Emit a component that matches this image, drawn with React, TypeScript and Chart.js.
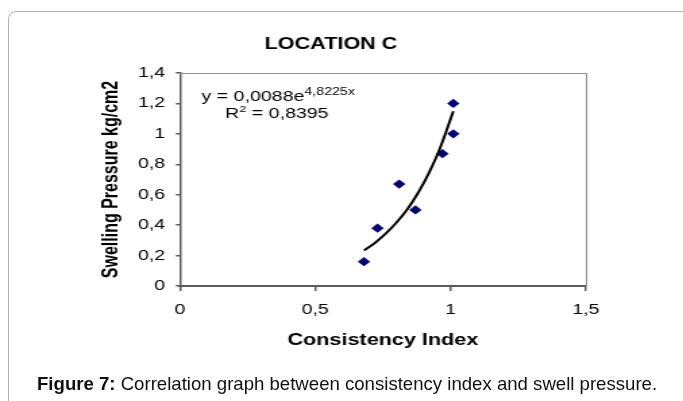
import React, { useEffect, useRef } from "react";
import { Chart, registerables } from "chart.js";

Chart.register(...registerables);

// ---- data ----
const chartTitle = "LOCATION C";
const xAxisTitle = "Consistency Index";
const yAxisTitle = "Swelling Pressure kg/cm2";
const consistencyIndex = [0.68, 0.73, 0.81, 0.87, 0.97, 1.01, 1.01];
const swellingPressure = [0.16, 0.38, 0.67, 0.5, 0.87, 1.0, 1.2];
// exponential trendline (y = 0,0088e^4,8225x)
const trendX = [0.68, 0.72, 0.76, 0.8, 0.84, 0.88, 0.92, 0.96, 1.01];
const trendY = [0.234, 0.283, 0.344, 0.417, 0.505, 0.613, 0.744, 0.902, 1.148];
const xTicks = [0, 0.5, 1, 1.5];
const yTicks = [0, 0.2, 0.4, 0.6, 0.8, 1, 1.2, 1.4];
const equationMain = "y = 0,0088e";
const equationExp = "4,8225x";
const r2Label = "R";
const r2Exp = "2";
const r2Value = " = 0,8395";
const captionBold = "Figure 7:";
const captionText = " Correlation graph between consistency index and swell pressure.";

const FONT = '"Liberation Sans", Arial, sans-serif';
const CANVAS_W = 506; // drawn narrower, then stretched to 683px like the original image
const CANVAS_H = 401;

const fmt = (v: number) => String(Number(v.toFixed(2))).replace(".", ",");

const decorPlugin = {
  id: "decor",
  beforeDatasetsDraw(chart: any) {
    const { ctx, chartArea: a } = chart;
    ctx.save();
    // light frame on top and right of plot
    ctx.strokeStyle = "#8f8f8f";
    ctx.lineWidth = 1;
    ctx.beginPath();
    ctx.moveTo(a.left, a.top + 0.5);
    ctx.lineTo(a.right + 0.5, a.top + 0.5);
    ctx.lineTo(a.right + 0.5, a.bottom);
    ctx.stroke();
    ctx.restore();
  },
  afterDraw(chart: any) {
    const { ctx, scales } = chart;
    const xs = scales.x;
    const ys = scales.y;
    ctx.save();
    ctx.fillStyle = "#000";
    // chart title
    ctx.font = `bold 16px ${FONT}`;
    ctx.textAlign = "center";
    ctx.textBaseline = "middle";
    ctx.fillText(chartTitle, chart.width * (331 / 683), 45);
    // equation
    ctx.textAlign = "left";
    ctx.textBaseline = "alphabetic";
    let x = xs.getPixelForValue(0.08);
    let y = ys.getPixelForValue(1.25) + 5;
    ctx.font = `14.5px ${FONT}`;
    ctx.fillText(equationMain, x, y);
    x += ctx.measureText(equationMain).width;
    ctx.font = `10.5px ${FONT}`;
    ctx.fillText(equationExp, x, y - 6);
    // R^2
    x = xs.getPixelForValue(0.167);
    y = ys.getPixelForValue(1.14) + 5;
    ctx.font = `14.5px ${FONT}`;
    ctx.fillText(r2Label, x, y);
    x += ctx.measureText(r2Label).width;
    ctx.font = `9.5px ${FONT}`;
    ctx.fillText(r2Exp, x, y - 6);
    x += ctx.measureText(r2Exp).width;
    ctx.font = `14.5px ${FONT}`;
    ctx.fillText(r2Value, x, y);
    ctx.restore();
  },
};

export default function App() {
  const canvasRef = useRef<HTMLCanvasElement | null>(null);

  useEffect(() => {
    if (!canvasRef.current) return;
    const chart = new Chart(canvasRef.current, {
      type: "scatter",
      data: {
        datasets: [
          {
            type: "line",
            label: "trend",
            data: trendX.map((x, i) => ({ x, y: trendY[i] })),
            borderColor: "#000",
            borderWidth: 2,
            pointRadius: 0,
            tension: 0.4,
            fill: false,
          } as any,
          {
            label: "points",
            data: consistencyIndex.map((x, i) => ({ x, y: swellingPressure[i] })),
            pointStyle: "rectRot",
            pointRadius: 4.6,
            backgroundColor: "#00007f",
            borderColor: "#00007f",
            borderWidth: 0,
          },
        ],
      },
      options: {
        responsive: false,
        animation: false,
        devicePixelRatio: 1,
        layout: { padding: { left: 60, right: CANVAS_W - 434.1, top: 73, bottom: 35 } },
        plugins: { legend: { display: false }, tooltip: { enabled: false }, title: { display: false } },
        scales: {
          x: {
            type: "linear",
            min: 0,
            max: 1.5,
            afterFit: (s: any) => {
              s.height = 80;
            },
            afterBuildTicks: (s: any) => {
              s.ticks = xTicks.map((v) => ({ value: v }));
            },
            grid: { drawOnChartArea: false, drawTicks: true, tickLength: 5, color: "#5a5a5a", lineWidth: 1.5 },
            border: { display: true, color: "#5a5a5a", width: 2 },
            ticks: {
              padding: 10,
              color: "#000",
              font: { size: 14.5, family: FONT },
              autoSkip: false,
              maxRotation: 0,
              callback: (v: any) => fmt(Number(v)),
            },
            title: {
              display: true,
              text: xAxisTitle,
              color: "#000",
              font: { size: 16, weight: "bold", family: FONT },
              padding: { top: 0, bottom: 15.4 },
            },
          },
          y: {
            min: 0,
            max: 1.4,
            afterFit: (s: any) => {
              s.width = 73.3;
            },
            afterBuildTicks: (s: any) => {
              s.ticks = yTicks.map((v) => ({ value: v }));
            },
            grid: { drawOnChartArea: false, drawTicks: true, tickLength: 3, color: "#5a5a5a", lineWidth: 1.5 },
            border: { display: true, color: "#5a5a5a", width: 1.5 },
            ticks: {
              padding: 8,
              color: "#000",
              font: { size: 14.5, family: FONT },
              autoSkip: false,
              callback: (v: any) => fmt(Number(v)),
            },
            title: {
              display: true,
              text: yAxisTitle,
              color: "#000",
              font: { size: 16, weight: "bold", family: FONT },
              padding: { top: 13.4, bottom: 0 },
            },
          },
        },
      } as any,
      plugins: [decorPlugin],
    });
    return () => chart.destroy();
  }, []);

  return (
    <div
      style={{
        position: "fixed",
        left: 0,
        top: 0,
        width: 683,
        height: 401,
        overflow: "hidden",
        background: "#fff",
      }}
    >
      <div
        style={{
          position: "absolute",
          left: 8,
          top: 11,
          width: 720,
          height: 440,
          border: "1px solid #b4b4b4",
          borderRadius: 8,
          boxSizing: "border-box",
        }}
      />
      <canvas
        ref={canvasRef}
        width={CANVAS_W}
        height={CANVAS_H}
        style={{ position: "absolute", left: 0, top: 0, width: 683, height: 401 }}
      />
      <div
        style={{
          position: "absolute",
          left: 37,
          top: 373,
          whiteSpace: "nowrap",
          fontFamily: FONT,
          fontSize: 18.6,
          lineHeight: "22px",
          color: "#111",
        }}
      >
        <b>{captionBold}</b>
        {captionText}
      </div>
    </div>
  );
}
